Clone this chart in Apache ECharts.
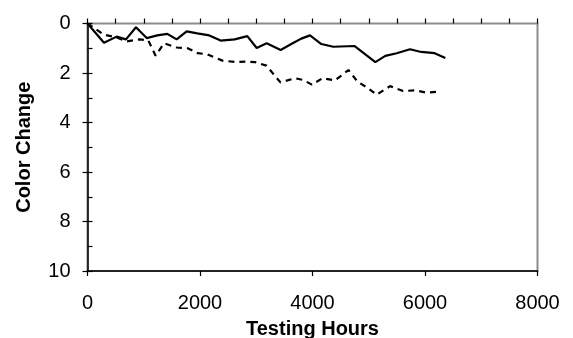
<!DOCTYPE html>
<html><head><meta charset="utf-8">
<script src="https://cdn.jsdelivr.net/npm/echarts@6/dist/echarts.min.js"></script>
<style>html,body{margin:0;padding:0;background:#fff}#c{width:573px;height:338px}</style>
</head><body><div id="c"></div>
<script>
const xTicks = [0, 2000, 4000, 6000, 8000];
const yTicks = [0, 2, 4, 6, 8, 10];
const solidX = [0,293,519,684,862,1052,1241,1419,1585,1763,1952,2165,2367,2617,2841,3008,3185,3434,3647,3801,3956,4157,4370,4750,5117,5295,5497,5733,5934,6172,6361];
const solidY = [0,0.78,0.53,0.64,0.15,0.59,0.48,0.42,0.64,0.32,0.40,0.48,0.69,0.64,0.51,0.99,0.80,1.07,0.80,0.61,0.48,0.83,0.94,0.91,1.56,1.31,1.20,1.04,1.15,1.20,1.39];
const dashX = [0,290,500,700,930,1080,1210,1360,1585,1780,1960,2120,2400,2650,2820,2980,3180,3430,3690,3830,3990,4180,4400,4640,4800,4980,5140,5380,5610,5830,6020,6240];
const dashY = [0,0.45,0.55,0.72,0.64,0.68,1.3,0.8,0.97,1.0,1.2,1.24,1.5,1.56,1.54,1.56,1.7,2.38,2.21,2.28,2.47,2.21,2.3,1.88,2.35,2.6,2.88,2.53,2.73,2.7,2.79,2.76];

const font = 'Liberation Sans, Arial, sans-serif';
const chart = echarts.init(document.getElementById('c'), null, {renderer:'canvas'});
chart.setOption({
  animation: false,
  grid: {left: 87.5, right: 35.5, top: 23.5, bottom: 67, containLabel: false, outerBoundsMode: 'none',
         show: true, borderColor: '#8c8c8c', borderWidth: 2, backgroundColor: '#fff'},
  xAxis: [
    {type: 'value', min: xTicks[0], max: xTicks[xTicks.length-1], interval: 2000, position: 'bottom',
     name: 'Testing Hours', nameLocation: 'middle', nameGap: 48,
     nameTextStyle: {fontFamily: font, fontSize: 20, fontWeight: 'bold', color: '#000'},
     axisLine: {show: true, onZero: false, lineStyle: {color: '#000', width: 1.5}},
     axisTick: {show: true, inside: false, length: 5, lineStyle: {color: '#000', width: 1.2}},
     axisLabel: {fontFamily: font, fontSize: 20, color: '#000', margin: 22, formatter: v => String(v)},
     splitLine: {show: false}},
    {type: 'value', min: 0, max: 8000, interval: 500, position: 'bottom', offset: 0,
     axisLine: {show: false},
     axisTick: {show: true, inside: true, length: 5, lineStyle: {color: '#000', width: 1.2}},
     axisLabel: {show: false}, splitLine: {show: false}}
  ],
  yAxis: [
    {type: 'value', min: yTicks[0], max: yTicks[yTicks.length-1], interval: 2, inverse: true, position: 'left',
     name: 'Color Change', nameLocation: 'middle', nameGap: 53, nameRotate: 90,
     nameTextStyle: {fontFamily: font, fontSize: 20, fontWeight: 'bold', color: '#000'},
     axisLine: {show: true, onZero: false, lineStyle: {color: '#000', width: 1.5}},
     axisTick: {show: true, inside: false, length: 5, lineStyle: {color: '#000', width: 1.2}},
     axisLabel: {fontFamily: font, fontSize: 20, color: '#000', margin: 17, formatter: v => String(v)},
     splitLine: {show: false}},
    {type: 'value', min: 0, max: 10, interval: 1, inverse: true, position: 'left', offset: 0,
     axisLine: {show: false},
     axisTick: {show: true, inside: true, length: 5, lineStyle: {color: '#000', width: 1.2}},
     axisLabel: {show: false}, splitLine: {show: false}}
  ],
  series: [
    {type: 'line', xAxisIndex: 0, yAxisIndex: 0, showSymbol: false, symbol: 'none',
     data: solidX.map((x,i)=>[x, solidY[i]]),
     lineStyle: {color: '#000', width: 2.2, type: 'solid'}},
    {type: 'line', xAxisIndex: 0, yAxisIndex: 0, showSymbol: false, symbol: 'none',
     data: dashX.map((x,i)=>[x, dashY[i]]),
     lineStyle: {color: '#000', width: 2.2, type: [6, 5]}}
  ]
});
</script></body></html>
